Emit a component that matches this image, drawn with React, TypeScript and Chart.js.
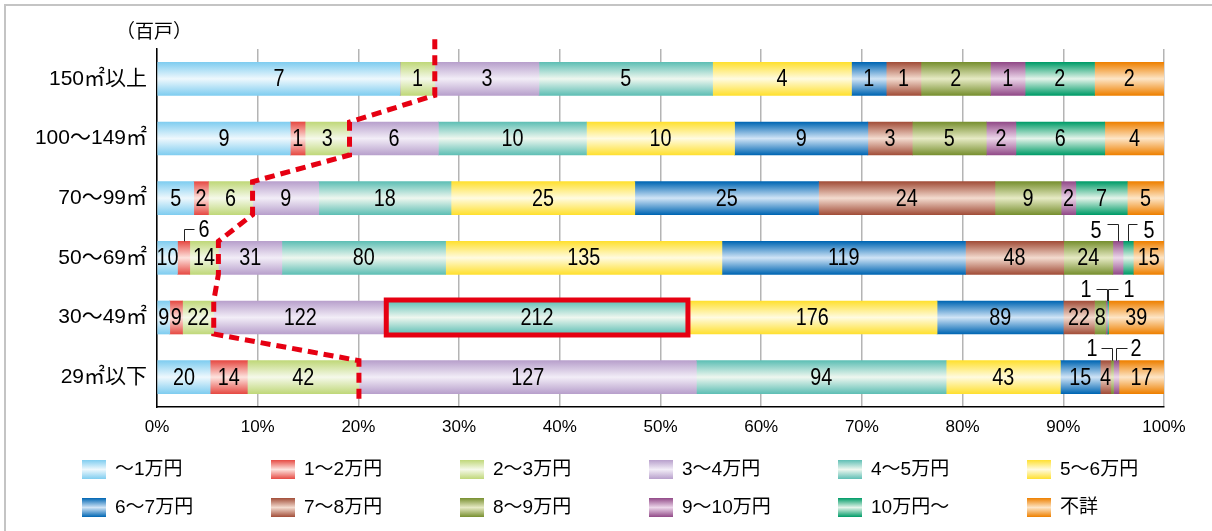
import { useEffect, useRef } from 'react';
import { Chart, registerables } from 'chart.js';

Chart.register(...registerables);

// Floor-area classes (rows, top to bottom)
const categories = ['150㎡以上', '100～149㎡', '70～99㎡', '50～69㎡', '30～49㎡', '29㎡以下'];

// Monthly rent classes (stack order, left to right)
const rentClasses = [
  '～1万円', '1～2万円', '2～3万円', '3～4万円', '4～5万円', '5～6万円',
  '6～7万円', '7～8万円', '8～9万円', '9～10万円', '10万円～', '不詳',
];

// Households (百戸) per rent class, one value per floor-area row
const rentUnder1 = [7, 9, 5, 10, 9, 20];
const rent1to2 = [0, 1, 2, 6, 9, 14];
const rent2to3 = [1, 3, 6, 14, 22, 42];
const rent3to4 = [3, 6, 9, 31, 122, 127];
const rent4to5 = [5, 10, 18, 80, 212, 94];
const rent5to6 = [4, 10, 25, 135, 176, 43];
const rent6to7 = [1, 9, 25, 119, 89, 15];
const rent7to8 = [1, 3, 24, 48, 22, 4];
const rent8to9 = [2, 5, 9, 24, 8, 1];
const rent9to10 = [1, 2, 2, 5, 1, 2];
const rentOver10 = [2, 6, 7, 5, 1, 0];
const rentUnknown = [2, 4, 5, 15, 39, 17];

const seriesCounts = [
  rentUnder1, rent1to2, rent2to3, rent3to4, rent4to5, rent5to6,
  rent6to7, rent7to8, rent8to9, rent9to10, rentOver10, rentUnknown,
];

// Edge colour and centre highlight of each banded fill
const edgeColors = [
  '#80cdf0', '#e64b44', '#c0d87a', '#b8a0cc', '#5fbfb5', '#ffe030',
  '#0066b3', '#a24e39', '#789030', '#924a88', '#009c68', '#ee8000',
];
const midColors = [
  '#eef8fd', '#fde3de', '#f5f9ea', '#f2edf7', '#eef7ef', '#fffbe0',
  '#d0e4f6', '#f3dbcf', '#e6eac4', '#ecd6ea', '#e4f4ea', '#fde5c6',
];

// Small segments labelled with a leader line: series index, row index, side
const callouts = [
  { series: 1, row: 3, dir: 1, rise: 12, arm: 10, gap: 4, dy: 1 },
  { series: 9, row: 3, dir: -1, rise: 17, arm: 11, gap: 6, dy: 7 },
  { series: 10, row: 3, dir: 1, rise: 17, arm: 9, gap: 6, dy: 7 },
  { series: 9, row: 4, dir: -1, rise: 12, arm: 11, gap: 5, dy: 1 },
  { series: 10, row: 4, dir: 1, rise: 12, arm: 10, gap: 5, dy: 1 },
  { series: 8, row: 5, dir: -1, rise: 13, arm: 11, gap: 4, dy: 1 },
  { series: 9, row: 5, dir: 1, rise: 13, arm: 11, gap: 3, dy: 1 },
];

// Highlighted segment: 4～5万円 in the 30～49㎡ row
const highlight = { series: 4, row: 4 };
// The dashed boundary follows the cumulative share of the first three classes
const boundarySeries = 3;

const unitLabel = '（百戸）';

const FONT = "'Liberation Sans', 'Noto Sans CJK JP', sans-serif";
const CJK_FONT = "'Noto Sans CJK JP', 'Liberation Sans', sans-serif";
const BAR = 33;

const rowTotals = categories.map((_, r) => seriesCounts.reduce((s, arr) => s + arr[r], 0));
const sharePct = (arr: number[]) => arr.map((v, r) => (v / rowTotals[r]) * 100);

function bandFill(i: number) {
  return (c: any) => {
    const chart = c.chart;
    const ys = chart.scales?.y;
    if (!ys || c.dataIndex === undefined) return edgeColors[i];
    const yc = ys.getPixelForValue(c.dataIndex);
    if (!Number.isFinite(yc)) return edgeColors[i];
    const g = chart.ctx.createLinearGradient(0, yc - BAR / 2, 0, yc + BAR / 2);
    g.addColorStop(0, edgeColors[i]);
    g.addColorStop(0.5, midColors[i]);
    g.addColorStop(1, edgeColors[i]);
    return g;
  };
}

function condensedText(ctx: CanvasRenderingContext2D, text: string, x: number, y: number, align: CanvasTextAlign) {
  ctx.save();
  ctx.translate(x, y);
  ctx.scale(0.86, 1);
  ctx.textAlign = align;
  ctx.fillText(text, 0, 0);
  ctx.restore();
}

const overlayPlugin = {
  id: 'overlay',
  beforeDraw(chart: any) {
    const { ctx } = chart;
    ctx.save();
    ctx.strokeStyle = '#c4c4c4';
    ctx.lineWidth = 2;
    ctx.beginPath();
    ctx.moveTo(5, chart.height);
    ctx.lineTo(5, 5);
    ctx.lineTo(chart.width, 5);
    ctx.stroke();
    ctx.restore();
  },
  afterDatasetsDraw(chart: any) {
    const { ctx } = chart;
    const xs = chart.scales.x;

    // segment values
    ctx.save();
    ctx.fillStyle = '#000';
    ctx.font = `23px ${FONT}`;
    ctx.textBaseline = 'middle';
    seriesCounts.forEach((arr, si) => {
      const meta = chart.getDatasetMeta(si);
      meta.data.forEach((bar: any, ri: number) => {
        const v = arr[ri];
        if (!v) return;
        const { x, base, y, height } = bar.getProps(['x', 'base', 'y', 'height'], true);
        const cx = (x + base) / 2;
        const co = callouts.find((c) => c.series === si && c.row === ri);
        if (co) {
          const top = y - height / 2;
          const ly = Math.round(top - co.rise) + 0.5;
          const lx = Math.round(cx) + 0.5;
          ctx.save();
          ctx.strokeStyle = '#222';
          ctx.lineWidth = 1;
          ctx.beginPath();
          ctx.moveTo(lx, top);
          ctx.lineTo(lx, ly);
          ctx.lineTo(lx + co.dir * co.arm, ly);
          ctx.stroke();
          ctx.restore();
          condensedText(ctx, String(v), lx + co.dir * (co.arm + co.gap), ly + co.dy, co.dir > 0 ? 'left' : 'right');
        } else {
          condensedText(ctx, String(v), cx, y + 1, 'center');
        }
      });
    });
    ctx.restore();

    // highlighted segment frame
    const hb = chart.getDatasetMeta(highlight.series).data[highlight.row];
    if (hb) {
      const { x, base, y, height } = hb.getProps(['x', 'base', 'y', 'height'], true);
      ctx.save();
      ctx.strokeStyle = '#e60012';
      ctx.lineWidth = 5;
      ctx.strokeRect(base - 0.5, y - height / 2 - 1, x - base + 1, height + 2);
      ctx.restore();
    }

    // dashed boundary through the end of the 2～3万円 class
    const firstBars = chart.getDatasetMeta(0).data;
    const pts: [number, number][] = [];
    categories.forEach((_, r) => {
      let cum = 0;
      for (let s = 0; s < boundarySeries; s++) cum += seriesCounts[s][r];
      const px = xs.getPixelForValue((cum / rowTotals[r]) * 100);
      const { y, height } = firstBars[r].getProps(['y', 'height'], true);
      const top = y - height / 2;
      const bottom = y + height / 2;
      pts.push([px, r === 0 ? top - 23 : top]);
      pts.push([px, r === categories.length - 1 ? bottom + 5 : bottom]);
    });
    ctx.save();
    ctx.strokeStyle = '#e60012';
    ctx.lineWidth = 5;
    ctx.setLineDash([10, 6]);
    ctx.lineJoin = 'miter';
    ctx.beginPath();
    pts.forEach(([px, py], i) => (i === 0 ? ctx.moveTo(px, py) : ctx.lineTo(px, py)));
    ctx.stroke();
    ctx.restore();
  },
  afterDraw(chart: any) {
    const { ctx } = chart;
    ctx.save();
    // unit label
    ctx.fillStyle = '#000';
    ctx.font = `19px ${CJK_FONT}`;
    ctx.textBaseline = 'middle';
    ctx.textAlign = 'left';
    ctx.fillText(unitLabel, 116, 31);

    // legend, two rows of six
    rentClasses.forEach((name, i) => {
      const col = i % 6;
      const row = Math.floor(i / 6);
      const bx = 82 + col * 189;
      const by = 460 + row * 38;
      const g = ctx.createLinearGradient(0, by, 0, by + 19);
      g.addColorStop(0, edgeColors[i]);
      g.addColorStop(0.5, midColors[i]);
      g.addColorStop(1, edgeColors[i]);
      ctx.fillStyle = g;
      ctx.fillRect(bx, by, 24, 19);
      ctx.fillStyle = '#000';
      ctx.font = `19px ${FONT}`;
      ctx.fillText(name, bx + 33, by + 10);
    });
    ctx.restore();
  },
};

export default function App() {
  const canvasRef = useRef<HTMLCanvasElement | null>(null);

  useEffect(() => {
    const canvas = canvasRef.current;
    if (!canvas) return;
    const chart = new Chart(canvas, {
      type: 'bar',
      data: {
        labels: categories,
        datasets: seriesCounts.map((arr, i) => ({
          label: rentClasses[i],
          data: sharePct(arr),
          backgroundColor: bandFill(i),
          borderWidth: 0,
          barThickness: BAR,
        })),
      },
      options: {
        indexAxis: 'y',
        responsive: false,
        animation: false,
        devicePixelRatio: 1,
        layout: { padding: { top: 49, right: 48, left: 0, bottom: 0 } },
        plugins: {
          legend: { display: false },
          tooltip: { enabled: false },
        },
        scales: {
          x: {
            stacked: true,
            min: 0,
            max: 100,
            ticks: {
              stepSize: 10,
              padding: 10,
              color: '#000',
              font: { family: FONT, size: 17 },
              callback: (v: any) => `${v}%`,
            },
            grid: { color: '#b4b4b4', lineWidth: 1.5, drawTicks: false },
            border: { display: true, color: '#000', width: 1.5 },
            afterFit: (s: any) => {
              s.height = 124;
            },
          },
          y: {
            stacked: true,
            ticks: {
              padding: 10,
              color: '#000',
              font: { family: FONT, size: 21 },
            },
            grid: { display: false, drawTicks: false },
            border: { display: true, color: '#000', width: 1.5 },
            afterFit: (s: any) => {
              s.width = 157;
            },
          },
        },
      },
      plugins: [overlayPlugin],
    });
    return () => chart.destroy();
  }, []);

  return (
    <div style={{ position: 'absolute', left: 0, top: 0, width: 1212, height: 531, background: '#fff' }}>
      <canvas ref={canvasRef} width={1212} height={531} style={{ display: 'block' }} />
    </div>
  );
}
